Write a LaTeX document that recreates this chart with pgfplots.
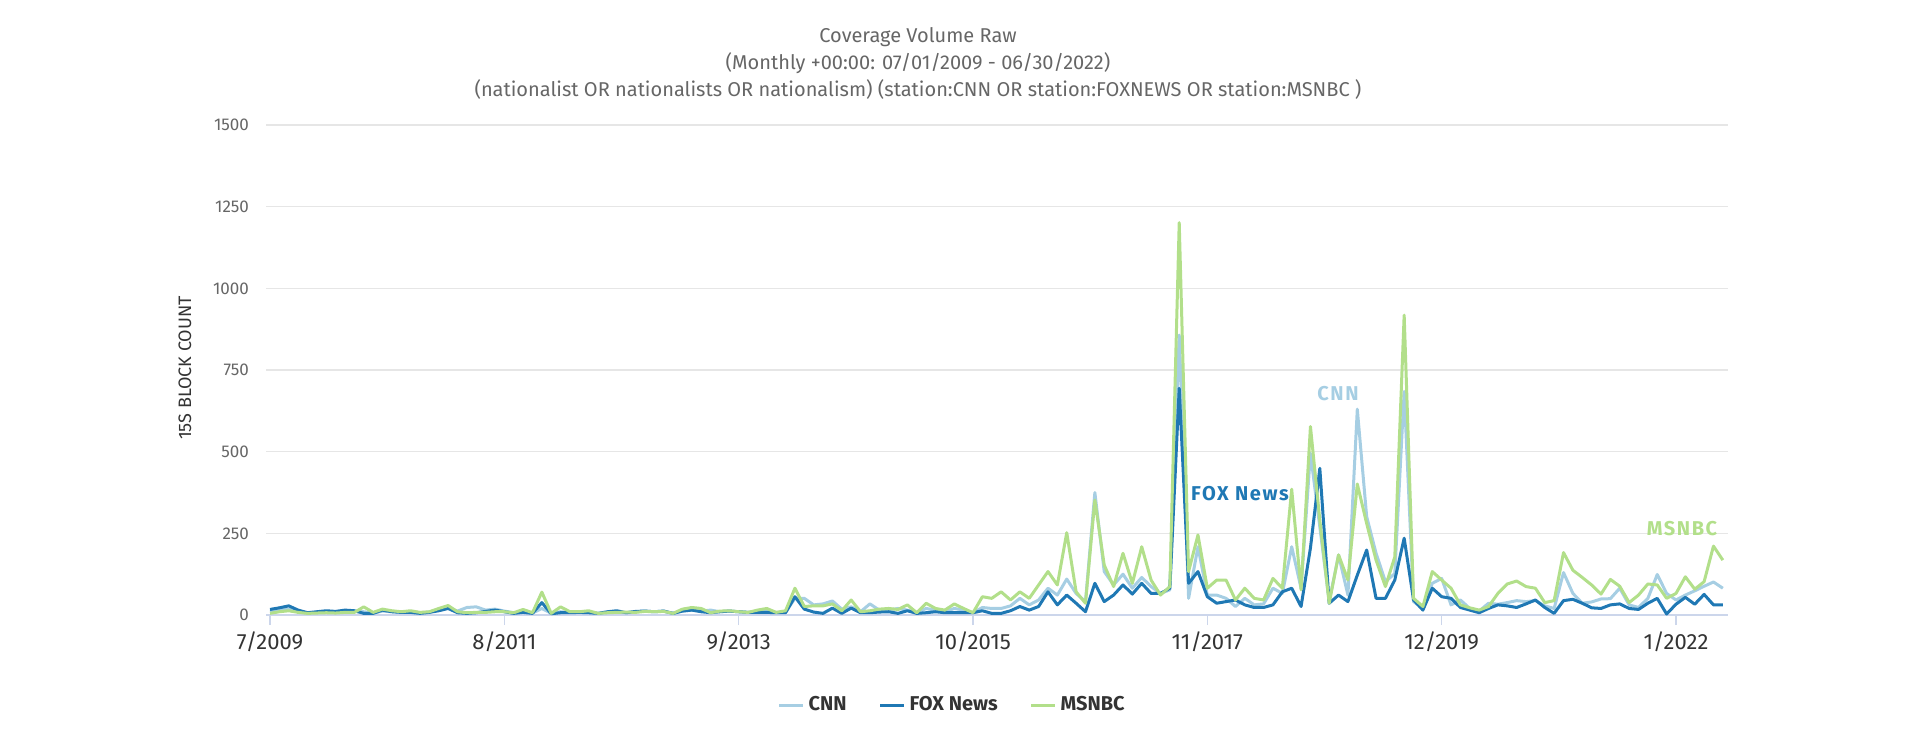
\documentclass[border=0pt]{standalone}
\usepackage{pgfplots}
\pgfplotsset{compat=1.18}
\usepackage{pgfplotstable}
\usepackage{fontspec}
\setmainfont{Fira Sans}
\definecolor{cnn}{HTML}{A6CEE3}
\definecolor{fox}{HTML}{1F78B4}
\definecolor{msnbc}{HTML}{B2DF8A}
\definecolor{gridc}{HTML}{E6E6E6}
\definecolor{axisc}{HTML}{CCD6EB}
\definecolor{txt}{HTML}{666666}
\definecolor{dark}{HTML}{333333}
\pgfplotstableread{
i cnn fox msnbc
0 10 17 5
1 15 22 10
2 18 28 13
3 10 15 8
4 6 7 5
5 8 10 6
6 10 13 7
7 9 11 6
8 12 15 8
9 10 13 8
10 10 5 25
11 6 5 8
12 12 15 18
13 10 10 13
14 8 8 10
15 10 8 13
16 7 5 8
17 9 8 10
18 15 13 20
19 22 20 29
20 12 7 10
21 23 5 7
22 25 7 8
23 15 11 8
24 18 15 10
25 12 10 10
26 7 5 7
27 10 8 17
28 6 5 7
29 20 38 70
30 5 4 5
31 10 7 25
32 8 7 10
33 8 8 10
34 8 7 13
35 5 5 5
36 7 10 7
37 10 13 8
38 7 7 9
39 10 11 8
40 12 12 11
41 10 10 10
42 12 12 11
43 5 5 5
44 12 12 18
45 15 15 23
46 12 10 20
47 15 7 7
48 10 10 12
49 12 12 13
50 10 10 10
51 8 8 8
52 10 8 15
53 12 8 20
54 8 7 8
55 8 7 13
56 51 56 82
57 51 18 26
58 31 9 28
59 34 5 28
60 43 21 34
61 18 5 13
62 25 21 46
63 10 7 10
64 34 7 13
65 15 9 18
66 15 10 20
67 20 5 17
68 15 13 31
69 8 5 7
70 20 7 36
71 15 10 20
72 10 7 15
73 20 7 34
74 15 7 20
75 7 7 7
76 23 13 56
77 20 5 51
78 20 5 71
79 28 13 46
80 51 26 71
81 31 15 51
82 46 26 92
83 82 71 133
84 61 31 92
85 110 61 252
86 66 36 71
87 41 10 36
88 375 97 352
89 133 41 153
90 92 61 87
91 125 92 189
92 82 64 97
93 115 97 209
94 87 66 107
95 66 66 61
96 77 82 87
97 857 694 1201
98 51 97 133
99 209 133 245
100 61 56 82
101 61 36 107
102 51 41 107
103 26 46 46
104 51 31 82
105 31 23 51
106 34 23 46
107 82 31 112
108 66 71 82
109 209 82 385
110 82 26 77
111 495 205 577
112 270 449 290
113 41 36 36
114 184 61 184
115 61 41 107
116 630 122 401
117 301 199 280
118 189 51 168
119 102 51 87
120 127 107 178
121 684 235 918
122 41 46 51
123 20 15 26
124 97 82 133
125 112 56 107
126 31 51 82
127 46 23 31
128 20 15 22
129 12 7 15
130 36 20 26
131 33 31 66
132 38 28 95
133 44 23 104
134 41 34 87
135 44 46 82
136 28 23 38
137 20 5 44
138 130 44 191
139 66 48 137
140 36 36 115
141 40 22 92
142 49 20 64
143 50 31 109
144 82 34 88
145 31 20 38
146 23 17 61
147 51 36 95
148 124 51 92
149 66 3 51
150 46 33 66
151 61 54 117
152 74 33 79
153 88 63 102
154 101 31 211
155 82 31 168
}\data
\begin{document}
\begin{tikzpicture}[x=0.5pt,y=0.5pt]
\path[use as bounding box] (0,0) rectangle (1922,740);
\begin{axis}[
  at={(133pt,62.5pt)}, anchor=south west,
  scale only axis, width=731pt, height=245pt,
  xmin=-0.43, xmax=155.55, ymin=0, ymax=1500,
  axis x line*=bottom, axis y line*=left,
  y axis line style={draw=none},
  x axis line style={draw=axisc, line width=0.6pt},
  ymajorgrids, grid style={draw=gridc, line width=0.6pt},
  ytick={0,250,500,750,1000,1250,1500},
  ytick style={draw=none},
  xtick={0,25,50,75,100,125,150},
  xticklabels={7/2009,8/2011,9/2013,10/2015,11/2017,12/2019,1/2022},
  xtick style={draw=axisc, line width=0.6pt},
  tick align=outside, major tick length=5pt,
  xticklabel style={font=\fontsize{11}{13}\selectfont, text=dark},
  yticklabel style={font=\fontsize{8.5}{10}\selectfont, text=txt},
  /pgf/number format/assume math mode=true,
  /pgf/number format/1000 sep={},
  legend style={at={(axis description cs:0.47,-0.184)}, anchor=center,
    draw=none, fill=none, font=\fontsize{10}{12}\selectfont\bfseries\color{dark},
    /tikz/every even column/.append style={column sep=14pt}},
  legend columns=3,
  legend image code/.code={\draw[#1, line width=1.5pt] (0pt,0pt) -- (12pt,0pt);},
  every axis plot/.append style={line width=1.5pt, line join=round, mark=none},
]
\addplot[cnn] table[x=i, y=cnn] {\data};
\addlegendentry{CNN}
\addplot[fox] table[x=i, y=fox] {\data};
\addlegendentry{FOX News}
\addplot[msnbc] table[x=i, y=msnbc] {\data};
\addlegendentry{MSNBC}
\end{axis}
\node[text=txt, font=\fontsize{10}{12}\selectfont] at (918,703) {Coverage Volume Raw};
\node[text=txt, font=\fontsize{10}{12}\selectfont] at (918,677) {(Monthly +00:00: 07/01/2009 - 06/30/2022)};
\node[text=txt, font=\fontsize{10}{12}\selectfont] at (918,650) {(nationalist OR nationalists OR nationalism) (station:CNN OR station:FOXNEWS OR station:MSNBC )};
\node[rotate=90, text=dark, font=\fontsize{9}{11}\selectfont] at (185,372) {15S BLOCK COUNT};
\node[text=cnn, font=\fontsize{10}{12}\selectfont\bfseries\addfontfeatures{LetterSpace=8}] at (1338,346) {CNN};
\node[text=fox, font=\fontsize{10}{12}\selectfont\bfseries\addfontfeatures{LetterSpace=8}] at (1240,246) {FOX News};
\node[text=msnbc, font=\fontsize{10}{12}\selectfont\bfseries\addfontfeatures{LetterSpace=8}] at (1682,211) {MSNBC};
\end{tikzpicture}
\end{document}
